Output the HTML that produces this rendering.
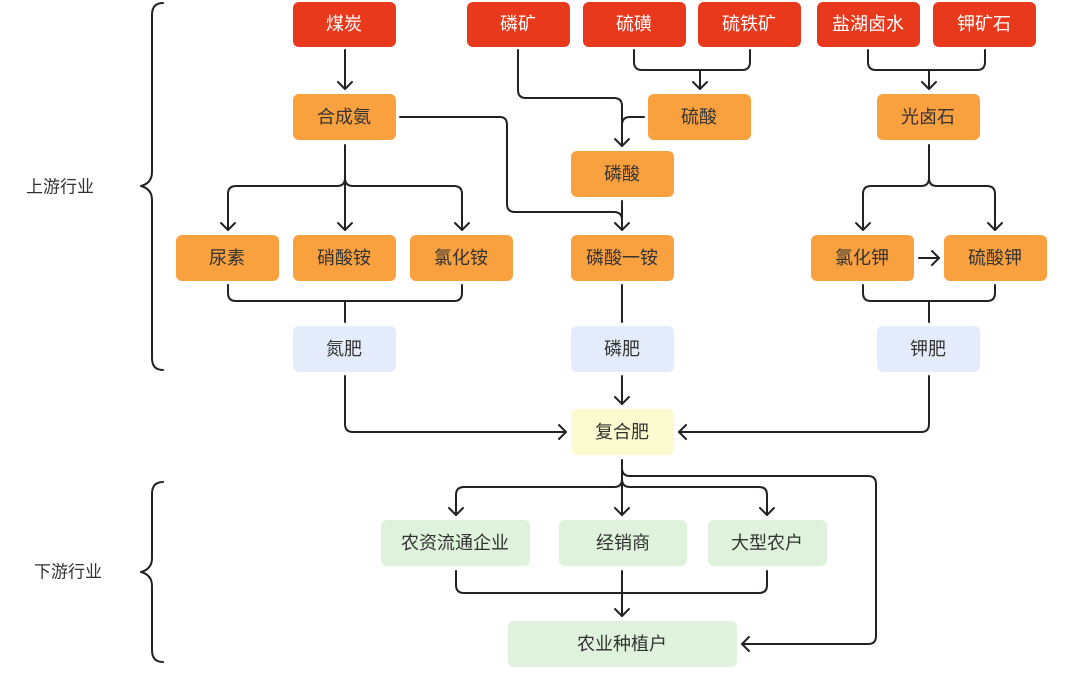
<!DOCTYPE html>
<html><head><meta charset="utf-8"><style>
html,body{margin:0;padding:0;background:#fff;}
svg text{font-family:"Liberation Sans","Noto Sans CJK SC",sans-serif;font-size:18px;text-anchor:middle;dominant-baseline:central;}
</style></head><body>
<svg width="1080" height="689" viewBox="0 0 1080 689" xmlns="http://www.w3.org/2000/svg">
<defs>
<marker id="a" markerWidth="14" markerHeight="14" refX="7" refY="10" orient="auto" markerUnits="userSpaceOnUse" viewBox="0 0 14 14">
</marker>
</defs>
<g fill="none" stroke="#222" stroke-width="2" stroke-linejoin="round" stroke-linecap="round">
<!-- braces -->
<path d="M163 3 Q152 3 152 15 L152 172 Q152 183 141 186 Q152 189 152 200 L152 358 Q152 370 163 370"/>
<path d="M163 482 Q152 482 152 494 L152 558 Q152 569 141 572 Q152 575 152 586 L152 650 Q152 662 163 662"/>
<!-- 煤炭->合成氨 -->
<path d="M345 50 V89"/><path d="M338 82 L345 89 L352 82"/>
<!-- 磷矿 -> 磷酸 -->
<path d="M518 50 V90 Q518 98 526 98 H614 Q622 98 622 106 V146"/><path d="M615 139 L622 146 L629 139"/>
<path d="M644 117 H630 Q622 117 622 125"/>
<!-- 硫磺 硫铁矿 -> 硫酸 -->
<path d="M634 50 V62 Q634 70 642 70 H742 Q750 70 750 62 V50"/><path d="M700 70 V89"/><path d="M693 82 L700 89 L707 82"/>
<!-- 合成氨 -> 磷酸一铵 -->
<path d="M400 117 H500 Q507 117 507 125 V204 Q507 212 515 212 H614 Q622 212 622 220"/>
<path d="M622 201 V230"/><path d="M615 223 L622 230 L629 223"/>
<!-- 合成氨 branches -->
<path d="M345 145 V230"/><path d="M338 223 L345 230 L352 223"/>
<path d="M345 178 Q345 186 337 186 H236 Q228 186 228 194 V230"/><path d="M221 223 L228 230 L235 223"/>
<path d="M345 178 Q345 186 353 186 H454 Q462 186 462 194 V230"/><path d="M455 223 L462 230 L469 223"/>
<!-- row3 -> 氮肥 -->
<path d="M228 285 V293 Q228 301 236 301 H454 Q462 301 462 293 V285"/><path d="M345 301 V322"/>
<path d="M622 285 V322"/>
<path d="M863 285 V293 Q863 301 871 301 H987 Q995 301 995 293 V285"/><path d="M929 301 V322"/>
<!-- 盐湖卤水 钾矿石 -> 光卤石 -->
<path d="M868 50 V62 Q868 70 876 70 H977 Q985 70 985 62 V50"/><path d="M929 70 V89"/><path d="M922 82 L929 89 L936 82"/>
<!-- 光卤石 branches -->
<path d="M929 145 V178 Q929 186 921 186 H871 Q863 186 863 194 V230"/><path d="M856 223 L863 230 L870 223"/>
<path d="M929 178 Q929 186 937 186 H987 Q995 186 995 194 V230"/><path d="M988 223 L995 230 L1002 223"/>
<path d="M919 258 H939"/><path d="M932 251 L939 258 L932 265"/>
<!-- fertilizers -> 复合肥 -->
<path d="M345 376 V424 Q345 432 353 432 H566"/><path d="M559 425 L566 432 L559 439"/>
<path d="M929 376 V424 Q929 432 921 432 H679"/><path d="M686 425 L679 432 L686 439"/>
<path d="M622 376 V404"/><path d="M615 397 L622 404 L629 397"/>
<!-- 复合肥 -> downstream -->
<path d="M622 460 V515"/><path d="M615 508 L622 515 L629 508"/>
<path d="M622 479 Q622 487 614 487 H464 Q456 487 456 495 V515"/><path d="M449 508 L456 515 L463 508"/>
<path d="M622 479 Q622 487 630 487 H759 Q767 487 767 495 V515"/><path d="M760 508 L767 515 L774 508"/>
<path d="M622 468 Q622 476 630 476 H868 Q876 476 876 484 V636 Q876 644 868 644 H742"/><path d="M749 637 L742 644 L749 651"/>
<path d="M456 571 V585 Q456 593 464 593 H759 Q767 593 767 585 V571"/><path d="M622 571 V616"/><path d="M615 609 L622 616 L629 609"/>
</g>
<!-- red -->
<g fill="#e8391d">
<rect x="293" y="2" width="103" height="45" rx="6"/>
<rect x="467" y="2" width="103" height="45" rx="6"/>
<rect x="583" y="2" width="103" height="45" rx="6"/>
<rect x="698" y="2" width="103" height="45" rx="6"/>
<rect x="817" y="2" width="103" height="45" rx="6"/>
<rect x="933" y="2" width="103" height="45" rx="6"/>
</g>
<g fill="#fff">
<text x="344" y="24">煤炭</text><text x="518" y="24">磷矿</text><text x="634" y="24">硫磺</text><text x="749" y="24">硫铁矿</text><text x="868" y="24">盐湖卤水</text><text x="984" y="24">钾矿石</text>
</g>
<!-- orange -->
<g fill="#f9a03f">
<rect x="293" y="94" width="103" height="46" rx="6"/>
<rect x="648" y="94" width="103" height="46" rx="6"/>
<rect x="877" y="94" width="103" height="46" rx="6"/>
<rect x="571" y="151" width="103" height="46" rx="6"/>
<rect x="176" y="235" width="103" height="46" rx="6"/>
<rect x="293" y="235" width="103" height="46" rx="6"/>
<rect x="410" y="235" width="103" height="46" rx="6"/>
<rect x="571" y="235" width="103" height="46" rx="6"/>
<rect x="811" y="235" width="103" height="46" rx="6"/>
<rect x="944" y="235" width="103" height="46" rx="6"/>
</g>
<g fill="#333">
<text x="344" y="117">合成氨</text><text x="699" y="117">硫酸</text><text x="928" y="117">光卤石</text><text x="622" y="174">磷酸</text>
<text x="227" y="258">尿素</text><text x="344" y="258">硝酸铵</text><text x="461" y="258">氯化铵</text><text x="622" y="258">磷酸一铵</text><text x="862" y="258">氯化钾</text><text x="995" y="258">硫酸钾</text>
</g>
<!-- blue -->
<g fill="#e4ebfa">
<rect x="293" y="326" width="103" height="46" rx="6"/>
<rect x="571" y="326" width="103" height="46" rx="6"/>
<rect x="877" y="326" width="103" height="46" rx="6"/>
</g>
<rect x="571" y="409" width="103" height="46" rx="6" fill="#fcfbcf"/>
<g fill="#dff2dc">
<rect x="381" y="520" width="149" height="46" rx="6"/>
<rect x="559" y="520" width="128" height="46" rx="6"/>
<rect x="708" y="520" width="119" height="46" rx="6"/>
<rect x="508" y="621" width="229" height="46" rx="6"/>
</g>
<g fill="#333">
<text x="344" y="349">氮肥</text><text x="622" y="349">磷肥</text><text x="928" y="349">钾肥</text><text x="622" y="432">复合肥</text>
<text x="455" y="543">农资流通企业</text><text x="623" y="543">经销商</text><text x="767" y="543">大型农户</text><text x="622" y="644">农业种植户</text>
<text x="60" y="187" style="font-size:17px">上游行业</text><text x="68" y="572" style="font-size:17px">下游行业</text>
</g>
</svg>
</body></html>
